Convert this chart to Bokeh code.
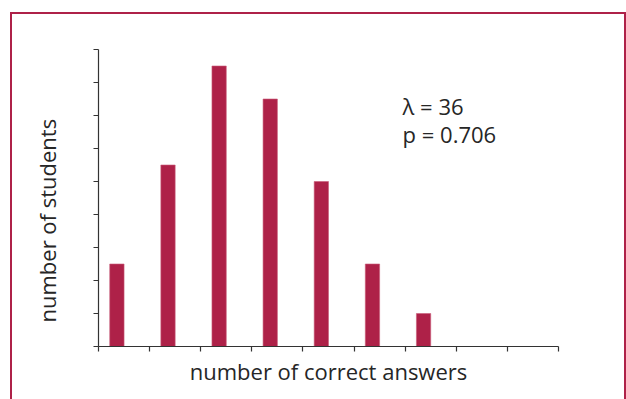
from bokeh.plotting import figure
from bokeh.models import FixedTicker, Label, ColumnDataSource, Title, InlineStyleSheet, CustomJSTickFormatter
from bokeh.transform import dodge
from bokeh.embed import file_html
from bokeh.resources import INLINE

# data
correct_answers = [0, 1, 2, 3, 4, 5, 6]
students = [5, 11, 17, 15, 10, 5, 2]
x_ticks = [0, 1, 2, 3, 4, 5, 6, 7, 8, 9]
y_ticks = [0, 2, 4, 6, 8, 10, 12, 14, 16, 18]
lambda_text = "λ = 36"
p_text = "p = 0.706"

CRIMSON = "#ae2148"
TEXT = "#262626"
FONT = "Open Sans"

src = ColumnDataSource(dict(x=[c + 0.5 for c in correct_answers], top=students))

p = figure(frame_width=460, frame_height=297, output_backend="svg", toolbar_location=None,
           x_range=(0, 9), y_range=(0, 18),
           min_border_left=98, min_border_right=68, min_border_top=49, min_border_bottom=53)
p.outline_line_color = None
p.grid.grid_line_color = None
p.background_fill_color = "white"
p.border_fill_color = "white"

p.vbar(x=dodge("x", -0.14, range=p.x_range), top="top", bottom=0, width=0.28, source=src,
       fill_color=CRIMSON, line_color="#c95c78", line_width=0.6)

for ax in (p.xaxis[0], p.yaxis[0]):
    ax.axis_line_color = "#333333"
    ax.axis_line_width = 1.2
    ax.major_tick_line_color = "#333333"
    ax.major_tick_line_width = 1.2
    ax.major_tick_in = 0
    ax.major_tick_out = 5
    ax.minor_tick_line_color = None
    ax.formatter = CustomJSTickFormatter(code="return ''")
    ax.major_label_text_font_size = "0px"
    ax.major_label_standoff = 0

p.xaxis.ticker = FixedTicker(ticks=x_ticks)
p.yaxis.ticker = FixedTicker(ticks=y_ticks)
p.xaxis.axis_label = "number of correct answers"
p.xaxis.axis_label_text_font = FONT
p.xaxis.axis_label_text_font_size = "22px"
p.xaxis.axis_label_text_font_style = "normal"
p.xaxis.axis_label_text_color = TEXT
p.xaxis.axis_label_standoff = 4

p.add_layout(Title(text="number of students", align="left", offset=24, vertical_align="top",
                   standoff=60, text_font=FONT, text_font_size="22px",
                   text_font_style="normal", text_color=TEXT), "left")

p.add_layout(Label(x=5.95, y=14.55, text=lambda_text, text_align="left", text_baseline="alphabetic",
                   text_font=FONT, text_font_size="22px", text_color=TEXT))
p.add_layout(Label(x=5.95, y=12.87, text=p_text, text_align="left", text_baseline="alphabetic",
                   text_font=FONT, text_font_size="22px", text_color=TEXT))

p.stylesheets = [InlineStyleSheet(css=(
    ":host { position: relative; }"
    ":host::after { content: ''; position: absolute; left: 10px; top: 12px; width: 616px;"
    " height: 387px; border: 2.5px solid #ae2148; border-bottom: none; box-sizing: border-box;"
    " pointer-events: none; }"))]

open("out.html", "w").write(file_html(p, INLINE))
